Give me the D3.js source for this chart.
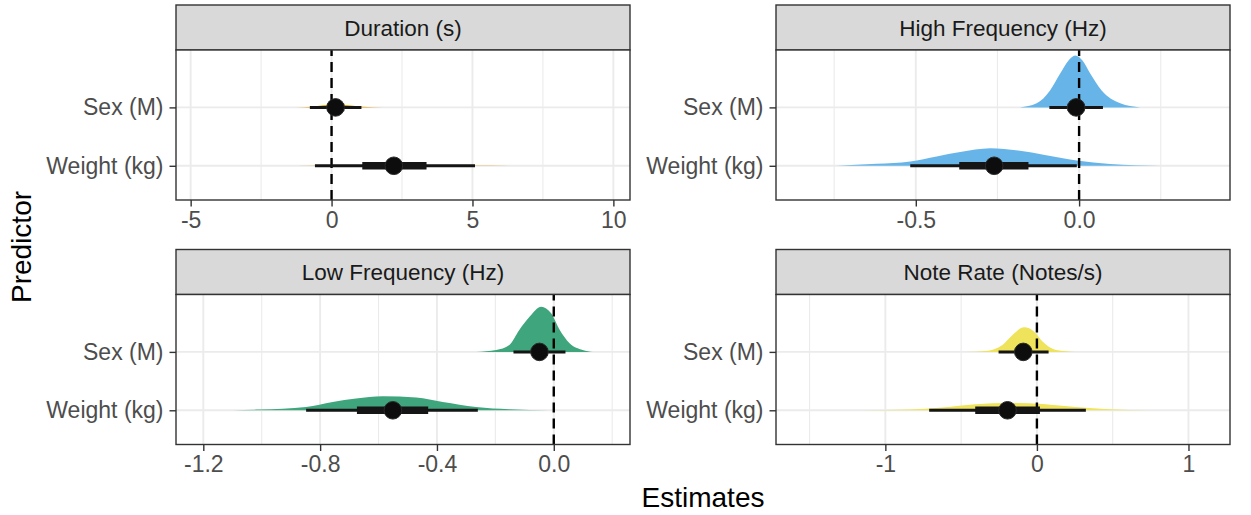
<!DOCTYPE html>
<html><head><meta charset="utf-8">
<script src="https://cdn.jsdelivr.net/npm/d3@7"></script>
<style>body{margin:0;background:#fff}svg{display:block}text{font-family:"Liberation Sans",Arial,Helvetica,sans-serif}</style>
</head><body>
<svg id="c" width="1251" height="515"></svg>
<script>
// ---------------- data ----------------
const panels = ["Duration (s)", "High Frequency (Hz)", "Low Frequency (Hz)", "Note Rate (Notes/s)"];
const predictors = ["Weight (kg)", "Sex (M)"]; // y index 1, 2
const fills = ["#E69F00", "#67B5E8", "#3FA57C", "#EEE35A"];

const medianSex    = [0.14, -0.009, -0.049, -0.09];
const medianWeight = [2.21, -0.26, -0.551, -0.194];
const ci95Sex    = [[-0.77, 1.06], [-0.091, 0.073], [-0.138, 0.040], [-0.253, 0.077]];
const ci95Weight = [[-0.59, 5.09], [-0.517, -0.007], [-0.848, -0.260], [-0.711, 0.323]];
const ci66Sex    = [[-0.15, 0.45], [-0.035, 0.015], [-0.075, -0.02], [-0.135, -0.045]];
const ci66Weight = [[1.09, 3.37], [-0.367, -0.155], [-0.674, -0.43], [-0.407, 0.02]];

// density outlines: [estimate, relative height in category units]
const densitySex = [
  [[-1.25,0],[-0.7,0.01],[-0.3,0.035],[0.15,0.05],[0.6,0.035],[1.1,0.012],[1.83,0]],
  [[-0.181,0],[-0.130,0.07],[-0.089,0.29],[-0.058,0.58],[-0.033,0.80],[-0.012,0.89],[0.011,0.80],[0.034,0.58],[0.069,0.29],[0.126,0.07],[0.187,0]],
  [[-0.266,0],[-0.197,0.034],[-0.152,0.12],[-0.118,0.376],[-0.083,0.60],[-0.043,0.774],[-0.009,0.66],[0.019,0.388],[0.054,0.149],[0.099,0.034],[0.134,0]],
  [[-0.469,0],[-0.337,0.017],[-0.227,0.12],[-0.161,0.29],[-0.084,0.42],[-0.018,0.347],[0.037,0.176],[0.125,0.034],[0.257,0]]
];
const densityWeight = [
  [[-2,0],[-0.5,0.006],[1.0,0.013],[2.2,0.016],[3.4,0.013],[5,0.006],[7.5,0]],
  [[-0.742,0],[-0.62,0.034],[-0.517,0.074],[-0.436,0.16],[-0.364,0.234],[-0.272,0.30],[-0.181,0.256],[-0.109,0.188],[-0.007,0.09],[0.095,0.03],[0.248,0]],
  [[-1.179,0],[-1.008,0.012],[-0.848,0.056],[-0.757,0.142],[-0.677,0.20],[-0.586,0.24],[-0.471,0.217],[-0.38,0.142],[-0.266,0.056],[-0.152,0.017],[-0.015,0]],
  [[-1.173,0],[-0.843,0.012],[-0.623,0.046],[-0.403,0.103],[-0.183,0.125],[0.037,0.108],[0.257,0.056],[0.477,0.017],[0.741,0]]
];

const xTicks = [[-5, 0, 5, 10], [-0.5, 0], [-1.2, -0.8, -0.4, 0], [-1, 0, 1]];
const xTickLabels = [["-5", "0", "5", "10"], ["-0.5", "0.0"], ["-1.2", "-0.8", "-0.4", "0.0"], ["-1", "0", "1"]];
const xMinor = [[-2.5, 2.5, 7.5], [-0.75, -0.25, 0.25], [-1.0, -0.6, -0.2, 0.2], [-1.5, -0.5, 0.5]];
const xDomains = [[-5.52, 10.59], [-0.928, 0.462], [-1.2935, 0.261], [-1.7215, 1.274]];

// ---------------- layout ----------------
const svg = d3.select("#c");
const panelX = [176, 776, 176, 776];
const panelY = [50, 50, 294.5, 294.5];
const W = 454, H = 150, stripH = 45;
const FONT = '"Liberation Sans",Arial,Helvetica,sans-serif';

panels.forEach((name, i) => {
  const px = panelX[i], py = panelY[i];
  const x = d3.scaleLinear().domain(xDomains[i]).range([px, px + W]);
  const y = d3.scaleLinear().domain([0.414, 2.983]).range([py + H, py]);
  const g = svg.append("g");

  // strip
  g.append("rect").attr("x", px).attr("y", py - stripH).attr("width", W).attr("height", stripH)
    .attr("fill", "#D9D9D9").attr("stroke", "#333").attr("stroke-width", 1.4);
  g.append("text").attr("x", px + W / 2).attr("y", py - stripH / 2).attr("dy", "0.36em")
    .attr("text-anchor", "middle").attr("font-size", 22.5).attr("fill", "#1A1A1A").text(name);

  // panel bg
  g.append("rect").attr("x", px).attr("y", py).attr("width", W).attr("height", H).attr("fill", "#fff");

  // grid
  g.selectAll(".mn").data(xMinor[i]).join("line")
    .attr("x1", d => x(d)).attr("x2", d => x(d)).attr("y1", py).attr("y2", py + H)
    .attr("stroke", "#EBEBEB").attr("stroke-width", 1.1);
  g.selectAll(".mj").data(xTicks[i]).join("line")
    .attr("x1", d => x(d)).attr("x2", d => x(d)).attr("y1", py).attr("y2", py + H)
    .attr("stroke", "#EBEBEB").attr("stroke-width", 1.9);
  g.selectAll(".hy").data([1, 2]).join("line")
    .attr("x1", px).attr("x2", px + W).attr("y1", d => y(d)).attr("y2", d => y(d))
    .attr("stroke", "#EBEBEB").attr("stroke-width", 1.9);

  // densities
  const dens = [{c: 2, d: densitySex[i]}, {c: 1, d: densityWeight[i]}];
  dens.forEach(o => {
    const area = d3.area().curve(d3.curveMonotoneX)
      .x(p => x(p[0])).y0(y(o.c)).y1(p => y(o.c + p[1]));
    g.append("path").attr("d", area(o.d)).attr("fill", fills[i]);
  });

  // zero line
  g.append("line").attr("x1", x(0)).attr("x2", x(0)).attr("y1", py + H).attr("y2", py)
    .attr("stroke", "#000").attr("stroke-width", 2.4).attr("stroke-dasharray", "10,6");

  // intervals
  const rows = [
    {c: 2, m: medianSex[i], a: ci95Sex[i], b: ci66Sex[i]},
    {c: 1, m: medianWeight[i], a: ci95Weight[i], b: ci66Weight[i]}
  ];
  rows.forEach(r => {
    g.append("line").attr("x1", x(r.a[0])).attr("x2", x(r.a[1])).attr("y1", y(r.c)).attr("y2", y(r.c))
      .attr("stroke", "#151515").attr("stroke-width", 3);
    g.append("line").attr("x1", x(r.b[0])).attr("x2", x(r.b[1])).attr("y1", y(r.c)).attr("y2", y(r.c))
      .attr("stroke", "#151515").attr("stroke-width", 7.5);
    g.append("circle").attr("cx", x(r.m)).attr("cy", y(r.c)).attr("r", 8.8)
      .attr("fill", "#0d0d0d").attr("stroke", "#2a2a2a").attr("stroke-width", 1);
  });

  // border
  g.append("rect").attr("x", px).attr("y", py).attr("width", W).attr("height", H)
    .attr("fill", "none").attr("stroke", "#333").attr("stroke-width", 1.4);

  // axes
  const ax = g.append("g").attr("transform", `translate(0,${py + H})`)
    .call(d3.axisBottom(x).tickValues(xTicks[i]).tickFormat((d, j) => xTickLabels[i][j]).tickSize(6.5).tickPadding(5));
  const ay = g.append("g").attr("transform", `translate(${px},0)`)
    .call(d3.axisLeft(y).tickValues([1, 2]).tickFormat(d => predictors[d - 1]).tickSize(6.5).tickPadding(6));
  [ax, ay].forEach(a => {
    a.select(".domain").remove();
    a.selectAll("line").attr("stroke", "#333").attr("stroke-width", 1.4);
    a.selectAll("text").attr("font-size", 23).attr("fill", "#4D4D4D").style("font-family", FONT);
  });
});

// axis titles
svg.append("text").attr("transform", "translate(31,247) rotate(-90)")
  .attr("text-anchor", "middle").attr("font-size", 28).attr("fill", "#000").text("Predictor");
svg.append("text").attr("x", 703).attr("y", 506.5)
  .attr("text-anchor", "middle").attr("font-size", 28).attr("fill", "#000").text("Estimates");
</script>
</body></html>
